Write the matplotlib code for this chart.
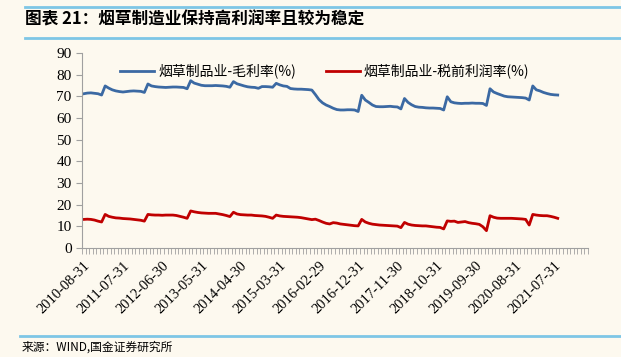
import matplotlib
matplotlib.use("Agg")
import matplotlib.pyplot as plt
import numpy as np

# month-end categories, 2010-08 onwards (142 slots on the category axis, data fills the first 134)
n_slots = 142
tick_labels = ["2010-08-31", "2011-07-31", "2012-06-30", "2013-05-31", "2014-04-30",
               "2015-03-31", "2016-02-29", "2016-12-31", "2017-11-30", "2018-10-31",
               "2019-09-30", "2020-08-31", "2021-07-31"]

# 烟草制品业-毛利率(%)
gross_margin = [
    71.2, 71.5, 71.6, 71.4, 71.2, 70.6,
    74.8, 73.8, 73.0, 72.5, 72.2, 72.0, 72.2, 72.4, 72.5, 72.4, 72.3, 71.8,
    75.7, 74.8, 74.5, 74.3, 74.2, 74.1, 74.2, 74.3, 74.3, 74.2, 74.1, 73.5,
    77.2, 76.1, 75.6, 75.1, 74.9, 74.9, 74.9, 75.0, 74.9, 74.8, 74.6, 74.2,
    76.8, 75.8, 75.3, 74.8, 74.4, 74.2, 74.1, 73.7, 74.5, 74.5, 74.4, 74.2,
    76.0, 75.3, 74.8, 74.6, 73.6, 73.4, 73.3, 73.3, 73.2, 73.1, 72.9, 70.8,
    68.5, 67.0, 66.0, 65.3, 64.5, 63.9, 63.7, 63.7, 63.8, 63.8, 63.7, 63.0,
    70.5, 68.3, 67.2, 66.0, 65.3, 65.2, 65.2, 65.3, 65.4, 65.2, 65.1, 64.2,
    69.0, 67.2, 66.1, 65.3, 65.0, 64.9, 64.7, 64.6, 64.6, 64.5, 64.4, 63.7,
    69.8, 67.5, 67.0, 66.8, 66.7, 66.8, 66.8, 66.9, 66.8, 66.8, 66.7, 65.8,
    73.5, 72.0, 71.3, 70.7, 70.1, 69.8, 69.7, 69.6, 69.5, 69.4, 69.2, 68.3,
    74.8, 73.0, 72.5, 71.8, 71.3, 70.9, 70.7, 70.6,
]

# 烟草制品业-税前利润率(%)
pretax_margin = [
    13.2, 13.3, 13.2, 12.9, 12.4, 12.0,
    15.5, 14.6, 14.2, 13.9, 13.8, 13.6, 13.5, 13.4, 13.2, 13.0, 12.8, 12.4,
    15.5, 15.3, 15.2, 15.2, 15.1, 15.2, 15.2, 15.2, 15.0, 14.6, 14.2, 13.7,
    17.1, 16.7, 16.4, 16.2, 16.1, 16.0, 16.0, 16.0, 15.7, 15.4, 15.0, 14.5,
    16.5, 15.7, 15.4, 15.3, 15.2, 15.2, 15.0, 14.9, 14.8, 14.6, 14.2, 13.7,
    15.2, 14.8, 14.6, 14.5, 14.4, 14.3, 14.2, 14.0, 13.7, 13.4, 13.1, 13.3,
    12.7, 12.0, 11.4, 11.1, 11.7, 11.5, 11.1, 10.9, 10.7, 10.5, 10.3, 10.2,
    13.2, 12.0, 11.4, 11.0, 10.8, 10.6, 10.5, 10.4, 10.3, 10.2, 10.1, 9.4,
    11.8, 11.0, 10.6, 10.4, 10.3, 10.2, 10.2, 10.0, 9.8, 9.6, 9.5, 8.8,
    12.5, 12.3, 12.4, 11.8, 12.0, 12.2, 11.7, 11.4, 11.2, 10.9, 9.8, 8.0,
    14.9, 14.2, 13.8, 13.7, 13.7, 13.7, 13.7, 13.6, 13.5, 13.4, 13.2, 10.6,
    15.5, 15.2, 15.0, 14.9, 14.9, 14.6, 14.2, 13.7,
]

bg = "#fdf9ef"
cjk = ["Noto Sans CJK SC", "DejaVu Sans"]
serif = ["Liberation Serif", "DejaVu Serif"]

fig = plt.figure(figsize=(6.21, 3.57), dpi=100, facecolor=bg)
ax = fig.add_axes([82 / 621, 1 - 248 / 357, (588 - 82) / 621, (248 - 53) / 357])
ax.set_facecolor(bg)

x = np.arange(len(gross_margin))
ax.plot(x, gross_margin, color="#3b69a3", lw=2.0, label="烟草制品业-毛利率(%)")
ax.plot(x, pretax_margin, color="#c00000", lw=2.0, label="烟草制品业-税前利润率(%)")

ax.set_xlim(-0.5, n_slots - 0.5)
ax.set_ylim(0, 90)
ax.set_yticks(np.arange(0, 91, 10))

ax.set_xticks(np.arange(0, 11 * len(tick_labels), 11))
ax.set_xticklabels(tick_labels, rotation=45, ha="right", rotation_mode="anchor",
                   family=serif, fontsize=10.5)
ax.set_xticks(np.arange(-0.5, n_slots, 1), minor=True)
ax.tick_params(axis="x", which="major", length=0, pad=8)
ax.tick_params(axis="x", which="minor", length=4, color="#a0a0a0", width=0.6)
ax.tick_params(axis="y", length=4, color="#a0a0a0", width=0.8, labelsize=11)
for lab in ax.get_yticklabels():
    lab.set_family(serif)

for s in ["top", "right"]:
    ax.spines[s].set_visible(False)
for s in ["left", "bottom"]:
    ax.spines[s].set_color("#a0a0a0")
    ax.spines[s].set_linewidth(0.8)

ax.legend(loc="upper center", bbox_to_anchor=(0.48, 1.01), ncol=2, frameon=False,
          prop={"family": cjk, "size": 10}, handlelength=2.4, columnspacing=2.2,
          handletextpad=0.3)

# title block and source with light blue rules
fig.add_artist(plt.Line2D([25 / 621, 1], [1 - 7 / 357] * 2, color="#7ec6e6", lw=2))
fig.add_artist(plt.Line2D([25 / 621, 1], [1 - 38 / 357] * 2, color="#7ec6e6", lw=2))
fig.add_artist(plt.Line2D([20 / 621, 1], [1 - 336 / 357] * 2, color="#7ec6e6", lw=2))
fig.text(25 / 621, 1 - 20 / 357, "图表 21：烟草制造业保持高利润率且较为稳定", family=cjk,
         fontsize=12, fontweight="bold", va="center", ha="left", style="italic")
fig.text(22 / 621, 1 - 347 / 357, "来源：WIND,国金证券研究所", family=cjk,
         fontsize=8.5, va="center", ha="left")

fig.savefig("out.png", dpi=100, facecolor=bg)
